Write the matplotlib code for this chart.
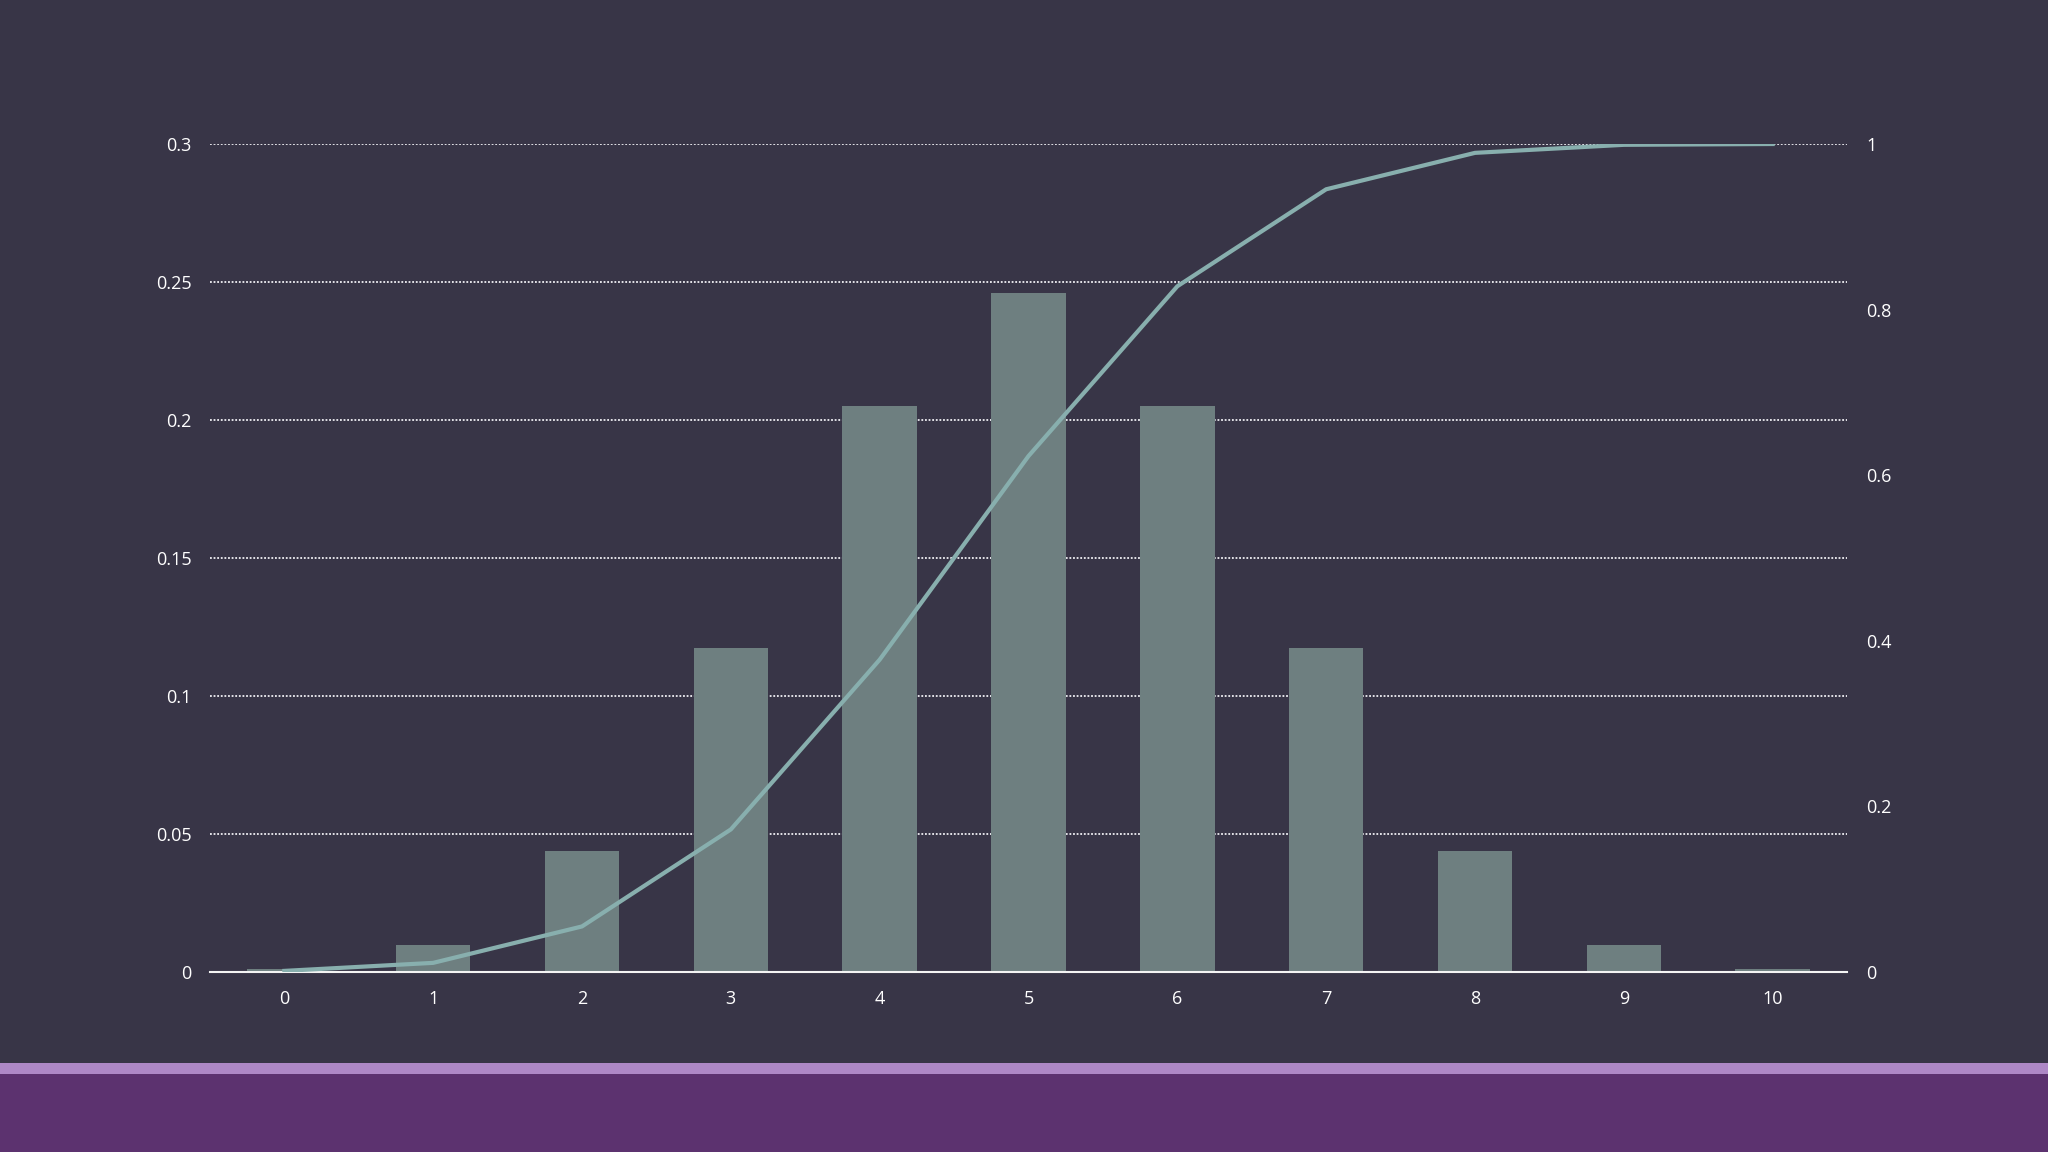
import matplotlib.pyplot as plt
from matplotlib.patches import Rectangle

# binomial-looking distribution
k = [0, 1, 2, 3, 4, 5, 6, 7, 8, 9, 10]
pmf = [0.001, 0.0098, 0.0439, 0.1172, 0.2051, 0.2461, 0.2051, 0.1172, 0.0439, 0.0098, 0.001]
cdf = [0.001, 0.0107, 0.0547, 0.1719, 0.377, 0.623, 0.8281, 0.9453, 0.9893, 0.999, 1.0]
left_ticks = [0, 0.05, 0.1, 0.15, 0.2, 0.25, 0.3]
left_labels = ['0', '0.05', '0.1', '0.15', '0.2', '0.25', '0.3']
right_ticks = [0, 0.2, 0.4, 0.6, 0.8, 1.0]
right_labels = ['0', '0.2', '0.4', '0.6', '0.8', '1']

bg = '#383547'
bar_col = '#6e7f80'
line_col = '#88afae'
txt = '#ffffff'

plt.rcParams['font.family'] = ['Open Sans', 'DejaVu Sans']

fig = plt.figure(figsize=(20.48, 11.52), dpi=100, facecolor=bg)
ax = fig.add_axes([0.1025, 0.1565, 0.7994, 0.7185])
ax.set_facecolor(bg)

ax.bar(k, pmf, width=0.5, color=bar_col, zorder=2)
ax.set_xlim(-0.5, 10.5)
ax.set_ylim(0, 0.3)
ax.set_yticks(left_ticks)
ax.set_yticklabels(left_labels)
ax.set_xticks(k)
ax.set_xticklabels([str(v) for v in k])
ax.grid(axis='y', color='#f0f0f4', linestyle=(0, (1, 1)), linewidth=1.3, zorder=1)
ax.tick_params(axis='both', length=0, colors=txt, labelsize=13)
ax.tick_params(axis='x', pad=13)
ax.tick_params(axis='y', pad=13)
for s in ['top', 'right', 'left']:
    ax.spines[s].set_visible(False)
ax.spines['bottom'].set_color('#f4f4f4')
ax.spines['bottom'].set_linewidth(1.5)
ax.spines['bottom'].set_zorder(3)

ax2 = ax.twinx()
ax2.plot(k, cdf, color=line_col, linewidth=3, zorder=4)
ax2.set_ylim(0, 1.0)
ax2.set_yticks(right_ticks)
ax2.set_yticklabels(right_labels)
ax2.tick_params(axis='y', length=0, colors=txt, labelsize=13, pad=14)
for s in ['top', 'right', 'left', 'bottom']:
    ax2.spines[s].set_visible(False)

# footer bands
fig.add_artist(Rectangle((0, 0), 1, 78 / 1152, transform=fig.transFigure,
                         facecolor='#5c326f', edgecolor='none'))
fig.add_artist(Rectangle((0, 78 / 1152), 1, 11 / 1152, transform=fig.transFigure,
                         facecolor='#ae88c6', edgecolor='none'))

fig.savefig('out.png', dpi=100, facecolor=bg)
